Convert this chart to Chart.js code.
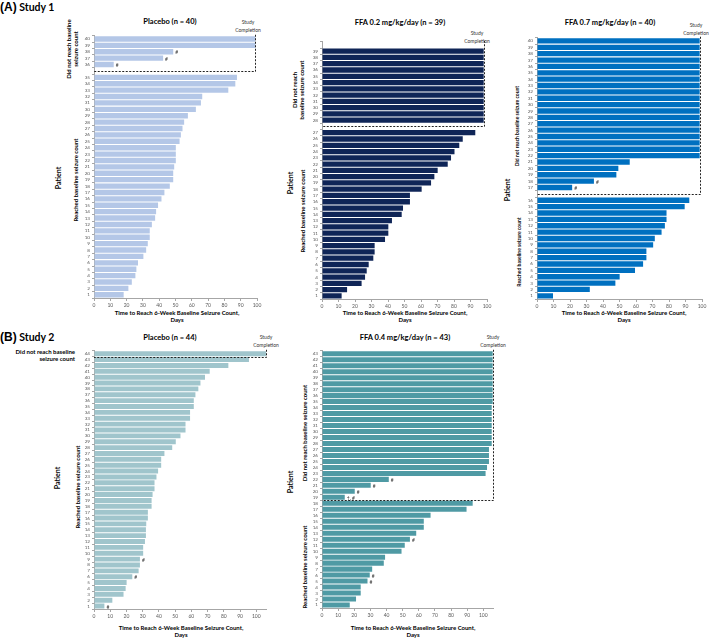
<!DOCTYPE html>
<html>
<head>
<meta charset="utf-8">
<script src="https://cdn.jsdelivr.net/npm/chart.js@4.4.1/dist/chart.umd.min.js"></script>
<style>
  body { margin: 0; background: #fff; font-family: Lato, "Open Sans", sans-serif; }
  #page { position: relative; width: 709px; height: 639px; overflow: hidden; }
  canvas { position: absolute; }
  .t { position: absolute; white-space: nowrap; color: #000; font-weight: bold; line-height: 1.1; }
  .c { transform: translate(-50%, -50%); text-align: center; }
  .r { transform: translate(-50%, -50%) rotate(-90deg); text-align: center; }
  .sc { position: absolute; white-space: nowrap; color: #333; font-size: 5px; transform: translate(-50%, -50%); text-align: center; line-height: 1.6; }
</style>
</head>
<body>
<div id="page">
  <div class="t" style="left:0;top:1px;font-size:10.5px"><span style="font-family:'Liberation Sans';font-size:12px">(A)</span> Study 1</div>
  <div class="t" style="left:0;top:331px;font-size:10.5px"><span style="font-family:'Liberation Sans';font-size:12px">(B)</span> Study 2</div>

  <div class="t c" style="left:170px;top:22px;font-size:7.5px">Placebo (n = 40)</div>
  <div class="t c" style="left:400px;top:23px;font-size:7.5px">FFA 0.2 mg/kg/day (n = 39)</div>
  <div class="t c" style="left:610px;top:23px;font-size:7.5px">FFA 0.7 mg/kg/day (n = 40)</div>
  <div class="t c" style="left:170px;top:338px;font-size:7.5px">Placebo (n = 44)</div>
  <div class="t c" style="left:405px;top:338px;font-size:7.5px">FFA 0.4 mg/kg/day (n = 43)</div>

  <div class="sc" style="left:248px;top:26px">Study<br>Completion</div>
  <div class="sc" style="left:477px;top:37px">Study<br>Completion</div>
  <div class="sc" style="left:696px;top:29px">Study<br>Completion</div>
  <div class="sc" style="left:266px;top:341px">Study<br>Completion</div>
  <div class="sc" style="left:493px;top:341px">Study<br>Completion</div>

  <div class="t c" style="left:177px;top:317px;font-size:6px">Time to Reach 6-Week Baseline Seizure Count,<br>Days</div>
  <div class="t c" style="left:405px;top:317px;font-size:6px">Time to Reach 6-Week Baseline Seizure Count,<br>Days</div>
  <div class="t c" style="left:624px;top:317px;font-size:6px">Time to Reach 6-Week Baseline Seizure Count,<br>Days</div>
  <div class="t c" style="left:181px;top:632px;font-size:6px">Time to Reach 6-Week Baseline Seizure Count,<br>Days</div>
  <div class="t c" style="left:413px;top:632px;font-size:6px">Time to Reach 6-Week Baseline Seizure Count,<br>Days</div>

  <div class="t r" style="left:73px;top:49px;font-size:6px">Did not reach baseline<br>seizure count</div>
  <div class="t r" style="left:59px;top:178px;font-size:7px">Patient</div>
  <div class="t r" style="left:76px;top:180px;font-size:6px">Reached baseline seizure count</div>

  <div class="t r" style="left:299px;top:90px;font-size:6px">Did not reach<br>baseline seizure count</div>
  <div class="t r" style="left:291px;top:183px;font-size:7px">Patient</div>
  <div class="t r" style="left:303px;top:211px;font-size:6px">Reached baseline seizure count</div>

  <div class="t r" style="left:518px;top:126px;font-size:5px">Did not reach baseline seizure count</div>
  <div class="t r" style="left:508px;top:190px;font-size:7px">Patient</div>
  <div class="t r" style="left:520px;top:252px;font-size:5px">Reached baseline seizure count</div>

  <div class="t" style="right:634px;top:349px;font-size:6px;text-align:right">Did not reach baseline<br>seizure count</div>
  <div class="t r" style="left:58px;top:478px;font-size:7px">Patient</div>
  <div class="t r" style="left:78px;top:487px;font-size:6px">Reached baseline seizure count</div>

  <div class="t r" style="left:305px;top:433px;font-size:6px">Did not reach baseline seizure count</div>
  <div class="t r" style="left:291px;top:482px;font-size:7px">Patient</div>
  <div class="t r" style="left:305px;top:567px;font-size:6px">Reached baseline seizure count</div>

  <canvas id="c1"></canvas>
  <canvas id="c2"></canvas>
  <canvas id="c3"></canvas>
  <canvas id="c4"></canvas>
  <canvas id="c5"></canvas>
</div>
<script>
// Study 1, placebo (blank label = gap between groups)
const s1PlaceboLabels = ["40","39","38","37","36","","35","34","33","32","31","30","29","28","27","26","25","24","23","22","21","20","19","18","17","16","15","14","13","12","11","10","9","8","7","6","5","4","3","2","1"];
const s1PlaceboDays = [99,99,48.6,42.4,12.1,null,87.7,86.7,82.4,66.4,65.6,62.5,57.6,55.3,54.3,53.3,52.5,50.2,50.2,50.2,49.2,48.6,48.6,46.5,43.2,41.4,39.3,38.1,37.5,35.5,34.2,34.2,33,32,30.3,27,26,25.4,23.2,21.1,18.2];
const s1PlaceboNotes = { "38": "#", "37": "#", "36": "#" };

// Study 1, FFA 0.2 mg/kg/day
const s1Ffa02Labels = ["","39","38","37","36","35","34","33","32","31","30","29","28","","27","26","25","24","23","22","21","20","19","18","17","16","15","14","13","12","11","10","9","8","7","6","5","4","3","2","1"];
const s1Ffa02Days = [null,98,98,98,98,98,98,98,98,98,98,98,98,null,92.9,85.3,83.2,80.3,78.2,76.2,70.1,68.1,66.1,60.4,53.3,53.3,49.1,48.3,42.4,40.2,40.2,38.2,31.9,31.9,31.1,28.3,27.1,26.1,24,15.2,11.9];
const s1Ffa02Notes = {};

// Study 1, FFA 0.7 mg/kg/day
const s1Ffa07Labels = ["40","39","38","37","36","35","34","33","32","31","30","29","28","27","26","25","24","23","22","21","20","19","18","17","","16","15","14","13","12","11","10","9","8","7","6","5","4","3","2","1"];
const s1Ffa07Days = [98.6,98.6,98.6,98.6,98.6,98.6,98.6,98.6,98.6,98.6,98.6,98.6,98.6,98.6,98.6,98.6,98.6,98.6,98.6,56.2,49.3,48.1,34.5,21.3,null,92.3,89.5,78.5,78.5,77.5,75.5,71.4,70.4,66.3,66.3,64.3,59.4,50.1,47.5,32,9.7];
const s1Ffa07Notes = { "18": "#", "17": "#" };

// Study 2, placebo
const s2PlaceboLabels = ["44","43","42","41","40","39","38","37","36","35","34","33","32","31","30","29","28","27","26","25","24","23","22","21","20","19","18","17","16","15","14","13","12","11","10","9","8","7","6","5","4","3","2","1"];
const s2PlaceboDays = [106,95.5,82.8,71.3,68.4,65.6,64.3,62.5,61.5,61.5,59.2,59.2,56.4,56.4,53.3,50.4,48.2,43.4,41.4,41.4,39.5,38.5,37.3,37.3,36.1,35.5,35.5,33.2,33.2,32.2,32,32,31.4,30.3,30.3,28.3,28.3,27.5,23.6,20.1,19.5,18.2,11.3,6.4];
const s2PlaceboNotes = { "9": "#", "6": "#", "1": "#" };

// Study 2, FFA 0.4 mg/kg/day
const s2Ffa04Labels = ["43","42","41","40","39","38","37","36","35","34","33","32","31","30","29","28","27","26","25","24","23","22","21","20","19","18","17","16","15","14","13","12","11","10","9","8","7","6","5","4","3","2","1"];
const s2Ffa04Days = [105.8,105.8,105.8,105.8,105.8,105.8,105.8,105.8,105.8,105.2,105.2,105.2,105.2,105.2,105.2,105.2,103.5,103.5,103.5,102.3,101.4,41.4,30.2,20.3,14.1,93.4,89.6,67.3,63.1,63.1,58.4,54.5,51.3,49.3,39.1,38.3,31.1,29.6,28.2,24,24,21.1,17.2];
const s2Ffa04Notes = { "22": "#", "21": "#", "20": "#", "19": "\u2020, #", "12": "#", "6": "#", "5": "#" };

const xTicks = [0, 10, 20, 30, 40, 50, 60, 70, 80, 90, 100];

// dashed "study completion" box + footnote marks
const boxPlugin = {
  id: "box",
  afterDatasetsDraw(chart, args, opts) {
    const { ctx, chartArea } = chart;
    const x = chart.scales.x;
    const y = chart.scales.y;
    const meta = chart.getDatasetMeta(0);
    ctx.save();
    ctx.font = "5px Lato";
    ctx.fillStyle = "#333";
    ctx.textBaseline = "middle";
    chart.data.labels.forEach(function (lab, i) {
      const note = opts.notes[lab];
      if (note && meta.data[i]) {
        ctx.fillText(note, meta.data[i].x + 2, meta.data[i].y + 1);
      }
    });
    const xd = Math.round(x.getPixelForValue(opts.completion)) + 0.5;
    const yd = Math.round(y.getPixelForValue(opts.split)) + 0.5;
    ctx.strokeStyle = "#222";
    ctx.lineWidth = 1;
    ctx.setLineDash([2, 1.5]);
    ctx.beginPath();
    ctx.moveTo(xd, chartArea.top - 1);
    ctx.lineTo(xd, yd);
    ctx.lineTo(chartArea.left, yd);
    ctx.stroke();
    ctx.restore();
  }
};

function drawPanel(id, plot, labels, days, notes, color, max, completion, split) {
  const padTop = 4, padRight = 8, axisW = 22, axisH = 12;
  const canvas = document.getElementById(id);
  canvas.style.left = (plot.left - axisW) + "px";
  canvas.style.top = (plot.top - padTop) + "px";
  canvas.width = plot.right - plot.left + axisW + padRight;
  canvas.height = plot.bottom - plot.top + padTop + axisH;

  new Chart(canvas.getContext("2d"), {
    type: "bar",
    data: {
      labels: labels,
      datasets: [{
        data: days,
        backgroundColor: color,
        borderWidth: 0,
        barPercentage: 0.84,
        categoryPercentage: 1
      }]
    },
    options: {
      indexAxis: "y",
      responsive: false,
      animation: false,
      layout: { padding: { top: padTop, right: padRight, bottom: 0, left: 0 } },
      plugins: {
        legend: { display: false },
        tooltip: { enabled: false },
        box: { notes: notes, completion: completion, split: split }
      },
      scales: {
        x: {
          min: 0,
          max: max,
          afterBuildTicks: function (scale) {
            scale.ticks = xTicks.map(function (v) { return { value: v }; });
          },
          afterFit: function (scale) { scale.height = axisH; },
          ticks: { font: { size: 5, family: "Lato" }, color: "#595959", padding: 1, maxRotation: 0, autoSkip: false },
          grid: { drawOnChartArea: false, tickLength: 3, color: "#a6a6a6" },
          border: { color: "#a6a6a6" }
        },
        y: {
          afterFit: function (scale) { scale.width = axisW; },
          ticks: { autoSkip: false, font: { size: 4.6, family: "Lato" }, color: "#595959", padding: 2 },
          grid: { drawOnChartArea: false, tickLength: 2, color: "#a6a6a6" },
          border: { color: "#a6a6a6" }
        }
      }
    },
    plugins: [boxPlugin]
  });
}

drawPanel("c1", { left: 94, top: 35, right: 257, bottom: 298 }, s1PlaceboLabels, s1PlaceboDays, s1PlaceboNotes, "#b4c7e7", 100, 99, 5);
drawPanel("c2", { left: 322, top: 41, right: 487, bottom: 299 }, s1Ffa02Labels, s1Ffa02Days, s1Ffa02Notes, "#0f2557", 100, 98.2, 13);
drawPanel("c3", { left: 537, top: 37, right: 702, bottom: 299 }, s1Ffa07Labels, s1Ffa07Days, s1Ffa07Notes, "#0070c0", 100, 98.6, 24);
drawPanel("c4", { left: 94, top: 350, right: 266, bottom: 609 }, s2PlaceboLabels, s2PlaceboDays, s2PlaceboNotes, "#a0c5cc", 106, 106, 0.5);
drawPanel("c5", { left: 322, top: 350, right: 493, bottom: 608 }, s2Ffa04Labels, s2Ffa04Days, s2Ffa04Notes, "#4f9aa4", 106, 106, 24.5);
</script>
</body>
</html>
